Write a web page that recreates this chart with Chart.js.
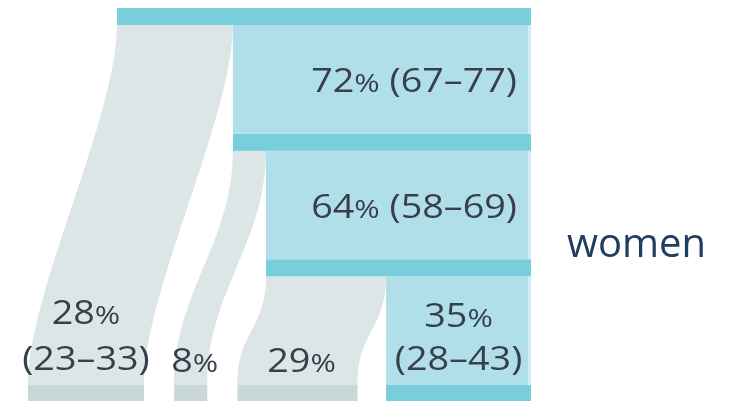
<!DOCTYPE html>
<html>
<head>
<meta charset="utf-8">
<script src="https://cdn.jsdelivr.net/npm/chart.js"></script>
<style>
  html, body { margin: 0; padding: 0; background: #ffffff; }
  canvas { display: block; }
</style>
</head>
<body>
<canvas id="cascade" width="739" height="401"></canvas>
<script>
// values
const stages = ['All', 'Step 1', 'Step 2', 'Step 3'];
const remainingPct = [100, 72, 64, 35];
const remainingCI = ['', '67–77', '58–69', '28–43'];
const droppedPct = [28, 8, 29];
const droppedCI = ['23–33', '', ''];
const groupLabel = 'women';

// layout / style
const X_MIN = -28.26, X_MAX = 150.24;
const Y_MIN = -0.064, Y_MAX = 3.127;
const STRIP = 0.135;
const EDGE = 0.7;
const HANDLE = 0.75;
const BOTTOM_START = -21.5, BOTTOM_GAP = 7.3;
const STRIP_COLOR = '#78cfdb';
const BODY_COLOR = '#b0dfe9';
const EDGE_COLOR = '#d0ecf2';
const FLOW_COLOR = '#dde6e6';
const FLOW_BASE = '#c9d7d7';
const TEXT_COLOR = '#383f4c';
const FONT = '"Open Sans", sans-serif';
const FONT_SIZE = 32;
const STRETCH = 1.18;

const last = stages.length - 1;

function rect(x0, x1, y0, y1, color) {
  return {
    data: [{x: x0, y: y0}, {x: x1, y: y0}, {x: x1, y: y1}, {x: x0, y: y1}, {x: x0, y: y0}],
    showLine: true,
    fill: 'shape',
    backgroundColor: color,
    borderColor: color,
    borderWidth: 0,
    pointRadius: 0
  };
}

const datasets = [];
remainingPct.forEach((p, i) => {
  const x0 = 100 - p;
  if (i > 0) {
    datasets.push(rect(x0, 100 - EDGE, i - 1 + STRIP, i, BODY_COLOR));
    datasets.push(rect(100 - EDGE, 100, i - 1 + STRIP, i, EDGE_COLOR));
  }
  datasets.push(rect(x0, 100, i, i + STRIP, STRIP_COLOR));
});

// bottom column of each dropped share
function bottomCols() {
  const cols = [];
  let x = BOTTOM_START;
  droppedPct.forEach(p => {
    cols.push([x, x + p]);
    x += p + BOTTOM_GAP;
  });
  return cols;
}

function pctLabel(p, ci) {
  return ci ? p + '% (' + ci + ')' : p + '%';
}

function setFont(ctx, t, size) {
  ctx.font = (t === '%' ? Math.round(size * 0.8) : size) + 'px ' + FONT;
}

function richWidth(ctx, text, size) {
  let w = 0;
  text.split(/(%)/).forEach(t => {
    if (!t) return;
    setFont(ctx, t, size);
    w += ctx.measureText(t).width;
  });
  return w * STRETCH;
}

function drawRich(ctx, text, x, y, align, size) {
  const w = richWidth(ctx, text, size);
  const left = align === 'right' ? x - w : align === 'center' ? x - w / 2 : x;
  ctx.save();
  ctx.translate(left, y);
  ctx.scale(STRETCH, 1);
  ctx.textAlign = 'left';
  ctx.textBaseline = 'alphabetic';
  let cx = 0;
  text.split(/(%)/).forEach(t => {
    if (!t) return;
    setFont(ctx, t, size);
    ctx.fillText(t, cx, 0);
    cx += ctx.measureText(t).width;
  });
  ctx.restore();
}

const flowPlugin = {
  id: 'flows',
  beforeDatasetsDraw(chart) {
    const ctx = chart.ctx;
    const xs = chart.scales.x, ys = chart.scales.y;
    const cols = bottomCols();
    const yEnd = ys.getPixelForValue(last);
    const handlePx = Math.abs(ys.getPixelForValue(HANDLE) - ys.getPixelForValue(0));
    ctx.save();
    droppedPct.forEach((p, k) => {
      const tx0 = xs.getPixelForValue(100 - remainingPct[k]);
      const tx1 = xs.getPixelForValue(100 - remainingPct[k + 1]);
      const bx0 = xs.getPixelForValue(cols[k][0]);
      const bx1 = xs.getPixelForValue(cols[k][1]);
      const yTop = ys.getPixelForValue(k + STRIP) - 1;
      const h = Math.min(handlePx, (yEnd - yTop) / 2);
      const c1 = yTop + h, c2 = yEnd - h;
      ctx.fillStyle = FLOW_COLOR;
      ctx.beginPath();
      ctx.moveTo(tx0, yTop);
      ctx.lineTo(tx1, yTop);
      ctx.bezierCurveTo(tx1, c1, bx1, c2, bx1, yEnd);
      ctx.lineTo(bx0, yEnd);
      ctx.bezierCurveTo(bx0, c2, tx0, c1, tx0, yTop);
      ctx.closePath();
      ctx.fill();
      ctx.fillStyle = FLOW_BASE;
      const yb = ys.getPixelForValue(last + STRIP);
      ctx.fillRect(bx0, yEnd, bx1 - bx0, yb - yEnd);
    });
    ctx.restore();
  }
};

const labelPlugin = {
  id: 'labels',
  afterDatasetsDraw(chart) {
    const ctx = chart.ctx;
    const xs = chart.scales.x, ys = chart.scales.y;
    const line2 = ys.getPixelForValue(last) - 15;
    const line1 = line2 - 46;
    ctx.save();
    ctx.fillStyle = TEXT_COLOR;

    remainingPct.forEach((p, i) => {
      if (i === 0) return;
      const x0 = xs.getPixelForValue(100 - p);
      const x1 = xs.getPixelForValue(100);
      const full = pctLabel(p, remainingCI[i]);
      if (richWidth(ctx, full, FONT_SIZE) < (x1 - x0) - 30) {
        const yc = (ys.getPixelForValue(i - 1 + STRIP) + ys.getPixelForValue(i)) / 2;
        drawRich(ctx, full, x1 - 14, yc + 13, 'right', FONT_SIZE);
      } else {
        const xc = (x0 + x1) / 2;
        drawRich(ctx, p + '%', xc, line1 + 3, 'center', FONT_SIZE);
        drawRich(ctx, '(' + remainingCI[i] + ')', xc, line2, 'center', FONT_SIZE);
      }
    });

    const cols = bottomCols();
    droppedPct.forEach((p, k) => {
      const x0 = xs.getPixelForValue(cols[k][0]);
      const x1 = xs.getPixelForValue(cols[k][1]);
      const xc = (x0 + x1) / 2;
      if (droppedCI[k]) {
        drawRich(ctx, p + '%', xc, line1, 'center', FONT_SIZE);
        drawRich(ctx, '(' + droppedCI[k] + ')', xc, line2, 'center', FONT_SIZE);
      } else {
        drawRich(ctx, p + '%', xc + 4, line2 + 2, 'center', FONT_SIZE);
      }
    });

    ctx.fillStyle = '#213d5e';
    ctx.font = '40px ' + FONT;
    ctx.textAlign = 'left';
    ctx.textBaseline = 'alphabetic';
    ctx.fillText(groupLabel, xs.getPixelForValue(100) + 36, ys.getPixelForValue(2) - 2);
    ctx.restore();
  }
};

new Chart(document.getElementById('cascade').getContext('2d'), {
  type: 'scatter',
  data: { datasets: datasets },
  options: {
    responsive: false,
    animation: false,
    devicePixelRatio: 1,
    events: [],
    layout: { padding: 0 },
    plugins: {
      legend: { display: false },
      tooltip: { enabled: false }
    },
    scales: {
      x: { type: 'linear', display: false, min: X_MIN, max: X_MAX },
      y: { type: 'linear', display: false, reverse: true, min: Y_MIN, max: Y_MAX }
    }
  },
  plugins: [flowPlugin, labelPlugin]
});
</script>
</body>
</html>
